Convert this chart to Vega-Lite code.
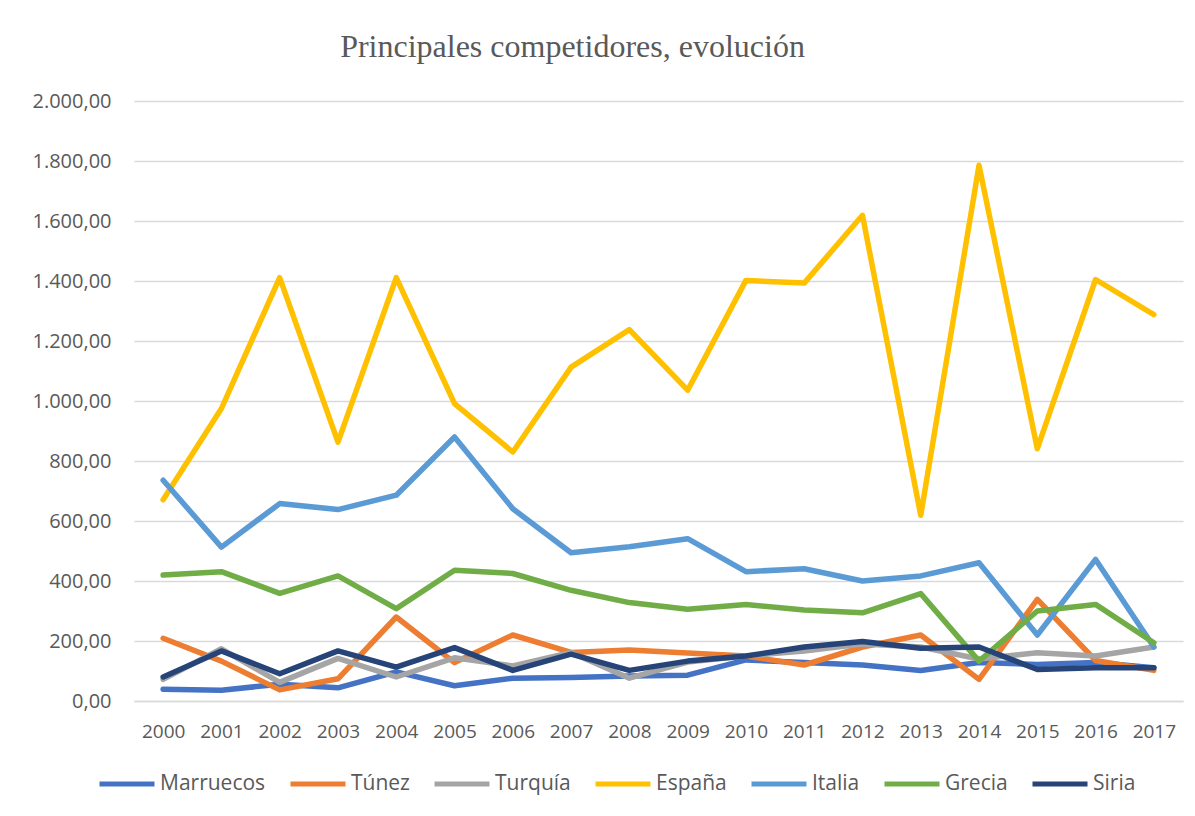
{
  "$schema": "https://vega.github.io/schema/vega-lite/v6.json",
  "autosize": "none",
  "width": 1049,
  "height": 600,
  "padding": {"left": 134, "top": 101, "right": 12, "bottom": 115},
  "background": "white",
  "config": {
    "locale": {"number": {"decimal": ",", "thousands": ".", "grouping": [3], "currency": ["", " €"]}},
    "view": {"stroke": null},
    "font": "Open Sans"
  },
  "title": {
    "text": "Principales competidores, evolución",
    "font": "Liberation Serif",
    "fontSize": 32,
    "fontWeight": "normal",
    "color": "#595959",
    "anchor": "middle",
    "frame": "group",
    "dx": -86,
    "baseline": "alphabetic",
    "offset": 2
  },
  "data": {
    "values": [
      {"year": "2000", "pais": "Marruecos", "valor": 39},
      {"year": "2001", "pais": "Marruecos", "valor": 36},
      {"year": "2002", "pais": "Marruecos", "valor": 56},
      {"year": "2003", "pais": "Marruecos", "valor": 44},
      {"year": "2004", "pais": "Marruecos", "valor": 97},
      {"year": "2005", "pais": "Marruecos", "valor": 51},
      {"year": "2006", "pais": "Marruecos", "valor": 76},
      {"year": "2007", "pais": "Marruecos", "valor": 78},
      {"year": "2008", "pais": "Marruecos", "valor": 83},
      {"year": "2009", "pais": "Marruecos", "valor": 86},
      {"year": "2010", "pais": "Marruecos", "valor": 137},
      {"year": "2011", "pais": "Marruecos", "valor": 128},
      {"year": "2012", "pais": "Marruecos", "valor": 120},
      {"year": "2013", "pais": "Marruecos", "valor": 102},
      {"year": "2014", "pais": "Marruecos", "valor": 128},
      {"year": "2015", "pais": "Marruecos", "valor": 122},
      {"year": "2016", "pais": "Marruecos", "valor": 128},
      {"year": "2017", "pais": "Marruecos", "valor": 111},
      {"year": "2000", "pais": "Túnez", "valor": 209},
      {"year": "2001", "pais": "Túnez", "valor": 133},
      {"year": "2002", "pais": "Túnez", "valor": 37},
      {"year": "2003", "pais": "Túnez", "valor": 74},
      {"year": "2004", "pais": "Túnez", "valor": 280},
      {"year": "2005", "pais": "Túnez", "valor": 128},
      {"year": "2006", "pais": "Túnez", "valor": 220},
      {"year": "2007", "pais": "Túnez", "valor": 162},
      {"year": "2008", "pais": "Túnez", "valor": 170},
      {"year": "2009", "pais": "Túnez", "valor": 160},
      {"year": "2010", "pais": "Túnez", "valor": 150},
      {"year": "2011", "pais": "Túnez", "valor": 120},
      {"year": "2012", "pais": "Túnez", "valor": 180},
      {"year": "2013", "pais": "Túnez", "valor": 220},
      {"year": "2014", "pais": "Túnez", "valor": 72},
      {"year": "2015", "pais": "Túnez", "valor": 339},
      {"year": "2016", "pais": "Túnez", "valor": 135},
      {"year": "2017", "pais": "Túnez", "valor": 102},
      {"year": "2000", "pais": "Turquía", "valor": 72},
      {"year": "2001", "pais": "Turquía", "valor": 174},
      {"year": "2002", "pais": "Turquía", "valor": 62},
      {"year": "2003", "pais": "Turquía", "valor": 142},
      {"year": "2004", "pais": "Turquía", "valor": 80},
      {"year": "2005", "pais": "Turquía", "valor": 144},
      {"year": "2006", "pais": "Turquía", "valor": 117},
      {"year": "2007", "pais": "Turquía", "valor": 162},
      {"year": "2008", "pais": "Turquía", "valor": 76},
      {"year": "2009", "pais": "Turquía", "valor": 130},
      {"year": "2010", "pais": "Turquía", "valor": 150},
      {"year": "2011", "pais": "Turquía", "valor": 167},
      {"year": "2012", "pais": "Turquía", "valor": 190},
      {"year": "2013", "pais": "Turquía", "valor": 180},
      {"year": "2014", "pais": "Turquía", "valor": 140},
      {"year": "2015", "pais": "Turquía", "valor": 161},
      {"year": "2016", "pais": "Turquía", "valor": 150},
      {"year": "2017", "pais": "Turquía", "valor": 180},
      {"year": "2000", "pais": "España", "valor": 671},
      {"year": "2001", "pais": "España", "valor": 975},
      {"year": "2002", "pais": "España", "valor": 1411},
      {"year": "2003", "pais": "España", "valor": 863},
      {"year": "2004", "pais": "España", "valor": 1411},
      {"year": "2005", "pais": "España", "valor": 991},
      {"year": "2006", "pais": "España", "valor": 830},
      {"year": "2007", "pais": "España", "valor": 1113},
      {"year": "2008", "pais": "España", "valor": 1238},
      {"year": "2009", "pais": "España", "valor": 1036},
      {"year": "2010", "pais": "España", "valor": 1402},
      {"year": "2011", "pais": "España", "valor": 1393},
      {"year": "2012", "pais": "España", "valor": 1619},
      {"year": "2013", "pais": "España", "valor": 619},
      {"year": "2014", "pais": "España", "valor": 1786},
      {"year": "2015", "pais": "España", "valor": 841},
      {"year": "2016", "pais": "España", "valor": 1405},
      {"year": "2017", "pais": "España", "valor": 1288},
      {"year": "2000", "pais": "Italia", "valor": 736},
      {"year": "2001", "pais": "Italia", "valor": 513},
      {"year": "2002", "pais": "Italia", "valor": 658},
      {"year": "2003", "pais": "Italia", "valor": 638},
      {"year": "2004", "pais": "Italia", "valor": 686},
      {"year": "2005", "pais": "Italia", "valor": 880},
      {"year": "2006", "pais": "Italia", "valor": 641},
      {"year": "2007", "pais": "Italia", "valor": 494},
      {"year": "2008", "pais": "Italia", "valor": 514},
      {"year": "2009", "pais": "Italia", "valor": 541},
      {"year": "2010", "pais": "Italia", "valor": 431},
      {"year": "2011", "pais": "Italia", "valor": 441},
      {"year": "2012", "pais": "Italia", "valor": 400},
      {"year": "2013", "pais": "Italia", "valor": 417},
      {"year": "2014", "pais": "Italia", "valor": 461},
      {"year": "2015", "pais": "Italia", "valor": 220},
      {"year": "2016", "pais": "Italia", "valor": 472},
      {"year": "2017", "pais": "Italia", "valor": 180},
      {"year": "2000", "pais": "Grecia", "valor": 420},
      {"year": "2001", "pais": "Grecia", "valor": 431},
      {"year": "2002", "pais": "Grecia", "valor": 359},
      {"year": "2003", "pais": "Grecia", "valor": 417},
      {"year": "2004", "pais": "Grecia", "valor": 308},
      {"year": "2005", "pais": "Grecia", "valor": 436},
      {"year": "2006", "pais": "Grecia", "valor": 425},
      {"year": "2007", "pais": "Grecia", "valor": 369},
      {"year": "2008", "pais": "Grecia", "valor": 328},
      {"year": "2009", "pais": "Grecia", "valor": 306},
      {"year": "2010", "pais": "Grecia", "valor": 322},
      {"year": "2011", "pais": "Grecia", "valor": 303},
      {"year": "2012", "pais": "Grecia", "valor": 294},
      {"year": "2013", "pais": "Grecia", "valor": 358},
      {"year": "2014", "pais": "Grecia", "valor": 133},
      {"year": "2015", "pais": "Grecia", "valor": 300},
      {"year": "2016", "pais": "Grecia", "valor": 322},
      {"year": "2017", "pais": "Grecia", "valor": 194},
      {"year": "2000", "pais": "Siria", "valor": 80},
      {"year": "2001", "pais": "Siria", "valor": 167},
      {"year": "2002", "pais": "Siria", "valor": 91},
      {"year": "2003", "pais": "Siria", "valor": 167},
      {"year": "2004", "pais": "Siria", "valor": 113},
      {"year": "2005", "pais": "Siria", "valor": 178},
      {"year": "2006", "pais": "Siria", "valor": 102},
      {"year": "2007", "pais": "Siria", "valor": 156},
      {"year": "2008", "pais": "Siria", "valor": 102},
      {"year": "2009", "pais": "Siria", "valor": 133},
      {"year": "2010", "pais": "Siria", "valor": 150},
      {"year": "2011", "pais": "Siria", "valor": 180},
      {"year": "2012", "pais": "Siria", "valor": 198},
      {"year": "2013", "pais": "Siria", "valor": 176},
      {"year": "2014", "pais": "Siria", "valor": 180},
      {"year": "2015", "pais": "Siria", "valor": 105},
      {"year": "2016", "pais": "Siria", "valor": 111},
      {"year": "2017", "pais": "Siria", "valor": 111}
    ]
  },
  "mark": {"type": "line", "strokeWidth": 5.5, "strokeCap": "round", "strokeJoin": "round"},
  "encoding": {
    "x": {
      "field": "year",
      "type": "ordinal",
      "scale": {"type": "point", "padding": 0.5},
      "axis": {
        "title": null,
        "labelAngle": 0,
        "labelFont": "Open Sans",
        "labelFontSize": 19,
        "labelColor": "#595959",
        "labelPadding": 21,
        "ticks": false,
        "domainColor": "#D9D9D9",
        "domainWidth": 1.5,
        "grid": false
      }
    },
    "y": {
      "field": "valor",
      "type": "quantitative",
      "scale": {"domain": [0, 2000], "nice": false},
      "axis": {
        "title": null,
        "values": [0, 200, 400, 600, 800, 1000, 1200, 1400, 1600, 1800, 2000],
        "format": ",.2f",
        "labelFont": "Open Sans",
        "labelFontSize": 20,
        "labelColor": "#595959",
        "labelPadding": 23,
        "ticks": false,
        "domain": false,
        "gridColor": "#D9D9D9",
        "gridWidth": 1.5
      }
    },
    "color": {
      "field": "pais",
      "type": "nominal",
      "sort": ["Marruecos", "Túnez", "Turquía", "España", "Italia", "Grecia", "Siria"],
      "scale": {
        "domain": ["Marruecos", "Túnez", "Turquía", "España", "Italia", "Grecia", "Siria"],
        "range": ["#4472C4", "#ED7D31", "#A5A5A5", "#FFC000", "#5B9BD5", "#70AD47", "#264478"]
      },
      "legend": {
        "title": null,
        "orient": "none",
        "direction": "horizontal",
        "columns": 7,
        "legendX": -37,
        "legendY": 653,
        "symbolType": "stroke",
        "symbolSize": 3025,
        "symbolStrokeWidth": 5,
        "labelFont": "Open Sans",
        "labelFontSize": 21,
        "labelColor": "#595959",
        "labelOffset": 3,
        "columnPadding": 14,
        "labelLimit": 300
      }
    }
  }
}
